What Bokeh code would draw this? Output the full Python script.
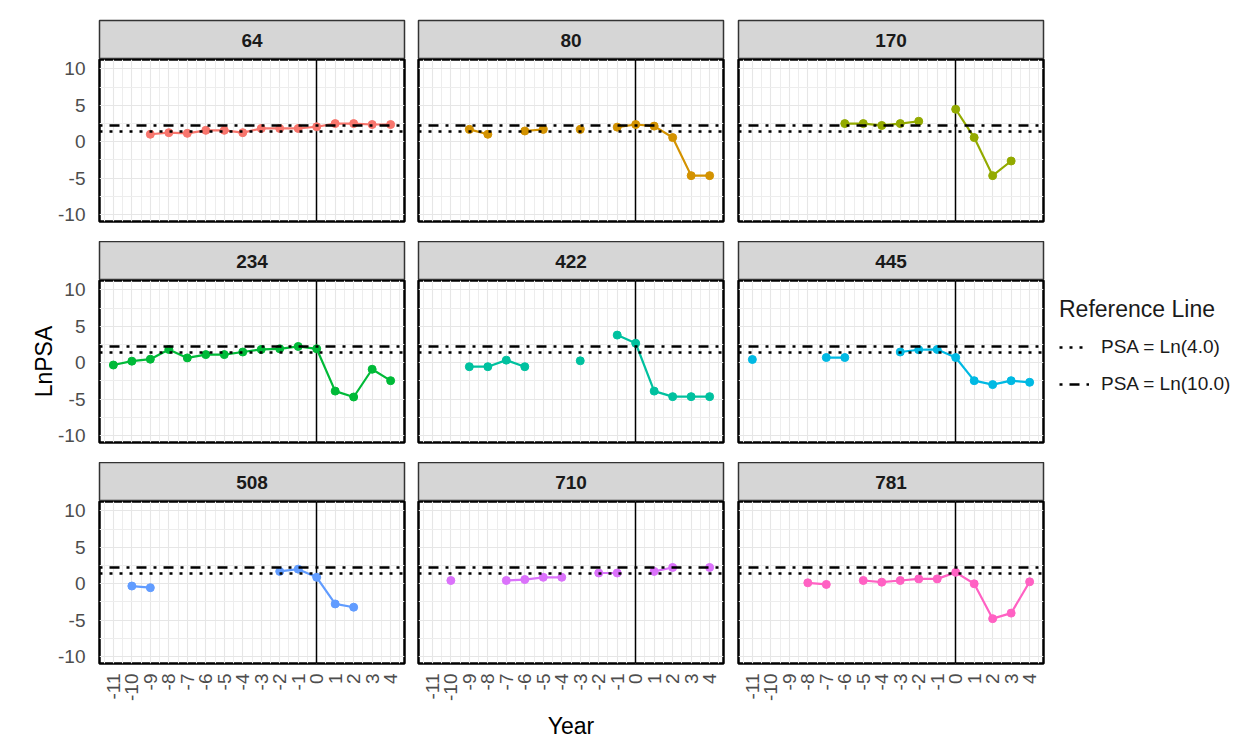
import numpy as np
from bokeh.plotting import figure
from bokeh.layouts import row, column
from bokeh.models import FixedTicker, Legend, LegendItem, Range1d
from bokeh.embed import file_html
from bokeh.resources import INLINE
from bokeh.core.properties import value

# ---------------- data ----------------
ids = ["64", "80", "170", "234", "422", "445", "508", "710", "781"]
colors = ["#F8766D", "#D39200", "#93AA00", "#00BA38", "#00C19F",
          "#00B9E3", "#619CFF", "#DB72FB", "#FF61C3"]

years_64 = [-9, -8, -7, -6, -5, -4, -3, -2, -1, 0, 1, 2, 3, 4]
lnpsa_64 = [1.03, 1.25, 1.16, 1.57, 1.57, 1.25, 1.83, 1.83, 1.83, 2.06, 2.5, 2.5, 2.37, 2.37]

years_80 = [-9, -8, -6, -5, -3, -1, 0, 1, 2, 3, 4]
lnpsa_80 = [1.7, 1.03, 1.48, 1.7, 1.7, 2.01, 2.37, 2.15, 0.58, -4.65, -4.65]

years_170 = [-6, -5, -4, -3, -2, 0, 1, 2, 3]
lnpsa_170 = [2.5, 2.5, 2.24, 2.5, 2.82, 4.47, 0.58, -4.65, -2.64]

years_234 = [-11, -10, -9, -8, -7, -6, -5, -4, -3, -2, -1, 0, 1, 2, 3, 4]
lnpsa_234 = [-0.31, 0.22, 0.49, 1.83, 0.67, 1.12, 1.12, 1.48, 1.83, 1.92, 2.24, 1.92,
             -3.89, -4.7, -0.89, -2.46]

years_422 = [-9, -8, -7, -6, -3, -1, 0, 1, 2, 3, 4]
lnpsa_422 = [-0.54, -0.54, 0.36, -0.54, 0.27, 3.8, 2.68, -3.89, -4.65, -4.65, -4.65]

years_445 = [-11, -7, -6, -3, -2, -1, 0, 1, 2, 3, 4]
lnpsa_445 = [0.45, 0.72, 0.72, 1.48, 1.79, 1.83, 0.72, -2.46, -3.0, -2.46, -2.68]

years_508 = [-10, -9, -2, -1, 0, 1, 2]
lnpsa_508 = [-0.31, -0.54, 1.7, 2.01, 0.89, -2.77, -3.22]

years_710 = [-10, -7, -6, -5, -4, -2, -1, 1, 2, 4]
lnpsa_710 = [0.45, 0.45, 0.58, 0.89, 0.89, 1.48, 1.48, 1.7, 2.24, 2.24]

years_781 = [-8, -7, -5, -4, -3, -2, -1, 0, 1, 2, 3, 4]
lnpsa_781 = [0.13, -0.09, 0.45, 0.22, 0.45, 0.67, 0.67, 1.57, 0.0, -4.79, -4.03, 0.27]

series_years = [years_64, years_80, years_170, years_234, years_422,
                years_445, years_508, years_710, years_781]
series_vals = [lnpsa_64, lnpsa_80, lnpsa_170, lnpsa_234, lnpsa_422,
               lnpsa_445, lnpsa_508, lnpsa_710, lnpsa_781]

x_ticks = list(range(-11, 5))
x_minor = [t + 0.5 for t in range(-12, 5)]
y_ticks = [-10, -5, 0, 5, 10]
y_minor = [-12.5, -7.5, -2.5, 2.5, 7.5, 12.5]
x_limits = (-11.75, 4.75)
y_limits = (-10.95, 11.3)

ref_values = [float(np.log(4.0)), float(np.log(10.0))]
ref_labels = ["PSA = Ln(4.0)", "PSA = Ln(10.0)"]
ref_dashes = ["3 7", "3 7 10 7"]

FONT = "Liberation Sans"
FRAME_W = 305
FRAME_H = 162
STRIP_H = 39


def borders(c):
    left = 99 if c == 0 else (7 if c == 1 else 8)
    return left, 7


def broken(xs, ys):
    # insert NaN where consecutive years are missing so the line breaks
    bx, by = [], []
    for k, (x, y) in enumerate(zip(xs, ys)):
        if k > 0 and x - xs[k - 1] > 1:
            bx.append(np.nan)
            by.append(np.nan)
        bx.append(x)
        by.append(y)
    return bx, by


def make_strip(i):
    r, c = divmod(i, 3)
    left, right = borders(c)
    s = figure(frame_width=FRAME_W, frame_height=STRIP_H,
               x_range=Range1d(0, 1), y_range=Range1d(0, 1),
               x_axis_location=None, y_axis_location=None,
               min_border_left=left, min_border_right=right,
               min_border_top=(20 if r == 0 else 0), min_border_bottom=0,
               toolbar_location=None, output_backend="svg")
    s.grid.visible = False
    s.background_fill_color = "#D6D6D6"
    s.border_fill_color = "white"
    s.outline_line_color = "#333333"
    s.outline_line_width = 1.5
    s.text(x=[0.5], y=[0.5], text=[ids[i]], text_align="center",
           text_baseline="middle", text_font=value(FONT),
           text_font_style="bold", text_font_size="19px", text_color="#1A1A1A")
    return s


def make_panel(i):
    r, c = divmod(i, 3)
    left, right = borders(c)
    p = figure(frame_width=FRAME_W, frame_height=FRAME_H,
               x_range=Range1d(*x_limits), y_range=Range1d(*y_limits),
               min_border_left=left, min_border_right=right,
               min_border_top=0, min_border_bottom=(80 if r == 2 else 20),
               toolbar_location=None, output_backend="svg")
    p.background_fill_color = "white"
    p.border_fill_color = "white"
    p.outline_line_color = "black"
    p.outline_line_width = 2.5

    xt = FixedTicker(ticks=x_ticks, minor_ticks=x_minor)
    yt = FixedTicker(ticks=y_ticks, minor_ticks=y_minor)
    p.xaxis.ticker = xt
    p.yaxis.ticker = yt
    p.xgrid.ticker = xt
    p.ygrid.ticker = yt
    for g in (p.xgrid, p.ygrid):
        g.grid_line_color = "#E6E6E6"
        g.grid_line_width = 1.1
        g.minor_grid_line_color = "#EDEDED"
        g.minor_grid_line_width = 1.0

    for ax in (p.xaxis, p.yaxis):
        ax.axis_line_color = None
        ax.major_tick_line_color = None
        ax.minor_tick_line_color = None
        ax.major_tick_out = 0
        ax.major_tick_in = 0
        ax.minor_tick_out = 0
        ax.minor_tick_in = 0
        ax.major_label_text_font = FONT
        ax.major_label_text_font_size = "19px"
        ax.major_label_text_color = "#4D4D4D"
        ax.axis_label_text_font = FONT
        ax.axis_label_text_font_size = "23px"
        ax.axis_label_text_font_style = "normal"
        ax.axis_label_text_color = "black"

    p.xaxis.major_label_overrides = {t: str(t) for t in x_ticks}
    p.yaxis.major_label_overrides = {t: str(t) for t in y_ticks}
    p.xaxis.major_label_orientation = np.pi / 2
    p.xaxis.major_label_standoff = 10
    p.yaxis.major_label_standoff = 14

    p.xaxis.visible = (r == 2)
    p.yaxis.visible = (c == 0)
    if i == 3:
        p.yaxis.axis_label = "LnPSA"
        p.yaxis.axis_label_standoff = -2
    if i == 7:
        p.xaxis.axis_label = "Year"
        p.xaxis.axis_label_standoff = 9

    # vertical line at year 0
    p.vspan(x=[0], line_color="black", line_width=1.5)

    bx, by = broken(series_years[i], series_vals[i])
    p.line(bx, by, line_color=colors[i], line_width=2.2)
    p.scatter(series_years[i], series_vals[i], size=8, marker="circle",
              fill_color=colors[i], line_color=colors[i])

    ref_renderers = []
    for v, d in zip(ref_values, ref_dashes):
        rr = p.hspan(y=[v], line_color="black", line_width=2.6, line_dash=d)
        ref_renderers.append(rr)

    if i == 5:
        items = [LegendItem(label=lab, renderers=[rr])
                 for lab, rr in zip(ref_labels, ref_renderers)]
        leg = Legend(items=items, title="Reference Line", location="top_left")
        leg.title_text_font = FONT
        leg.title_text_font_size = "23px"
        leg.title_text_font_style = "normal"
        leg.title_text_color = "#1A1A1A"
        leg.title_standoff = 12
        leg.label_text_font = FONT
        leg.label_text_font_size = "19px"
        leg.label_text_color = "#1A1A1A"
        leg.glyph_width = 30
        leg.glyph_height = 24
        leg.label_standoff = 12
        leg.spacing = 13
        leg.margin = 16
        leg.padding = 0
        leg.border_line_color = None
        leg.background_fill_alpha = 0
        p.add_layout(leg, "right")
    return p


cols = []
for c in range(3):
    kids = []
    for r in range(3):
        i = r * 3 + c
        kids.append(make_strip(i))
        kids.append(make_panel(i))
    cols.append(column(*kids, spacing=0))

layout = row(*cols, spacing=0)

open("out.html", "w").write(file_html(layout, INLINE))
